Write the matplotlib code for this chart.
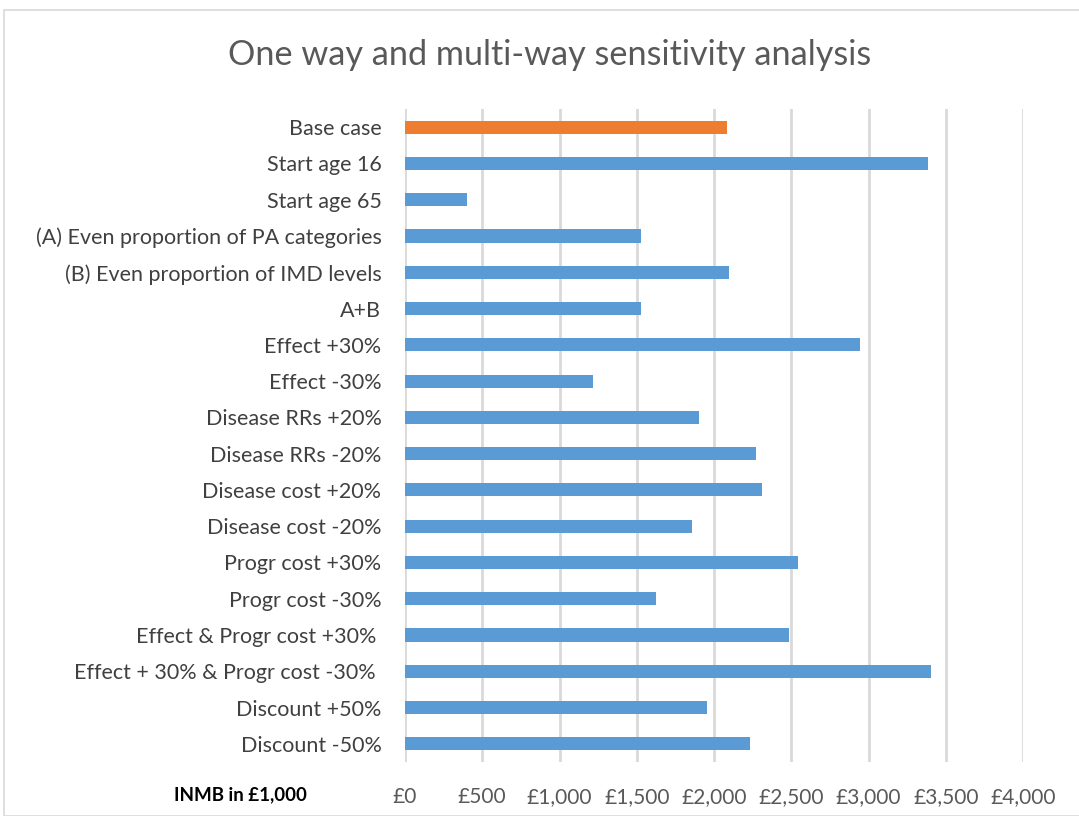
import matplotlib
matplotlib.use("Agg")
import matplotlib.pyplot as plt
from matplotlib.patches import Rectangle
from matplotlib.ticker import FuncFormatter

categories = [
    "Base case", "Start age 16", "Start age 65",
    "(A) Even proportion of PA categories", "(B) Even proportion of IMD levels",
    "A+B", "Effect +30%", "Effect -30%", "Disease RRs +20%", "Disease RRs -20%",
    "Disease cost +20%", "Disease cost -20%", "Progr cost +30%", "Progr cost -30%",
    "Effect & Progr cost +30% ", "Effect + 30% & Progr cost -30% ",
    "Discount +50%", "Discount -50%",
]
inmb = [2085, 3385, 401, 1526, 2100, 1526, 2945, 1220, 1900, 2275,
        2308, 1857, 2541, 1626, 2487, 3405, 1954, 2230]
xticks = [0, 500, 1000, 1500, 2000, 2500, 3000, 3500, 4000]

plt.rcParams['font.family'] = ['Lato', 'DejaVu Sans']

W, H = 1079, 816
fig = plt.figure(figsize=(W / 100, H / 100), dpi=100)
fig.patches.append(Rectangle((4 / W, 0), 1.5, (H - 10) / H, transform=fig.transFigure,
                             fill=False, edgecolor='#D9D9D9', linewidth=1.2))

ax = fig.add_axes([405 / W, (H - 762) / H, (1023 - 405) / W, (762 - 109) / H])
ypos = list(range(len(categories)))
colors = ['#ED7D31'] + ['#5B9BD5'] * (len(categories) - 1)
ax.barh(ypos, inmb, height=0.36, color=colors, zorder=3)
ax.set_ylim(len(categories) - 0.5, -0.5)
ax.set_xlim(0, 4000)
ax.set_xticks(xticks)
ax.xaxis.set_major_formatter(FuncFormatter(lambda v, p: "£{:,.0f}".format(v)))
ax.set_yticks(ypos)
ax.set_yticklabels(categories)
ax.tick_params(axis='y', length=0, pad=17, labelsize=15.5, labelcolor='#404040')
ax.tick_params(axis='x', length=0, pad=18, labelsize=15, labelcolor='#595959')
ax.grid(axis='x', color='#D9D9D9', linewidth=2, zorder=0)
for s in ax.spines.values():
    s.set_visible(False)

fig.text(550 / W, 1 - 55 / H, "One way and multi-way sensitivity analysis",
         ha='center', va='center', fontsize=24.7, color='#595959', fontweight='normal')
fig.text(240 / W, 1 - 795 / H, "INMB in £1,000", ha='center', va='center',
         fontsize=13.5, fontweight='bold', color='black')

fig.savefig("out.png", dpi=100)
